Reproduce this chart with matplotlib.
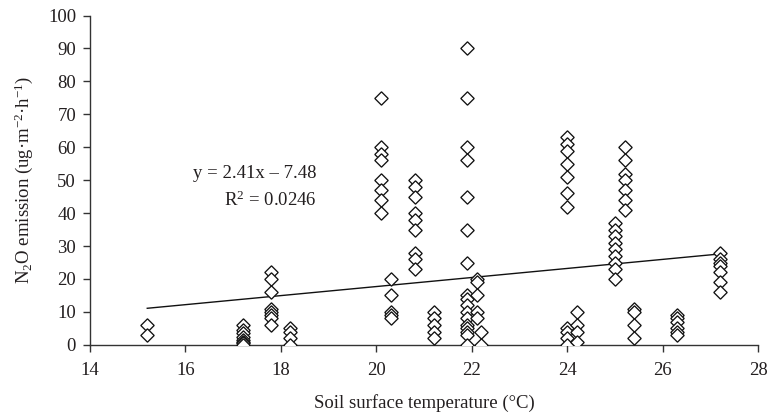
import matplotlib
matplotlib.use("Agg")
import matplotlib.pyplot as plt

# Soil temperature groups (x) and the N2O readings measured at each one (y)
temps = [15.2, 17.2, 17.8, 18.2, 20.1, 20.3, 20.8, 21.2, 21.9, 22.1, 22.2,
         24.0, 24.2, 25.0, 25.2, 25.4, 26.3, 27.2]
emissions = [
    [6, 3],
    [6, 4.5, 3.5, 2.5, 1.5, 1, 0.5, 0],
    [22, 20, 16, 11, 10, 9, 8, 6],
    [5, 4, 2, 0],
    [75, 60, 58, 56, 50, 47, 44, 40],
    [20, 15, 10, 9, 8],
    [50, 48, 45, 40, 38, 35, 28, 26, 23],
    [10, 8, 6, 4, 2],
    [90, 75, 60, 56, 45, 35, 25, 15, 14, 12, 10, 8, 6, 5, 4, 3, 0],
    [20, 19, 15, 10, 8],
    [4, 0],
    [63, 61, 59, 55, 51, 46, 42, 5, 4, 2, 0],
    [10, 6, 4, 1],
    [37, 35, 33, 31, 29, 27, 25, 23, 20],
    [60, 56, 52, 50, 47, 44, 41],
    [11, 10, 6, 2],
    [9, 8, 7, 5, 4, 3],
    [28, 26, 25, 24, 22, 19, 16],
]

# trendline as drawn in the source (end points)
trend_x = [15.2, 27.2]
trend_y = [11.1, 27.6]
eq_text = "y = 2.41x \u2013 7.48"
r2_text = "R$^2$ = 0.0246"

plt.rcParams["font.family"] = ["Liberation Serif", "DejaVu Serif"]
plt.rcParams["mathtext.fontset"] = "custom"
plt.rcParams["mathtext.rm"] = "Liberation Serif"
plt.rcParams["mathtext.it"] = "Liberation Serif:italic"
plt.rcParams["mathtext.bf"] = "Liberation Serif:bold"

text_col = "#231f20"
fs = 13.5

fig = plt.figure(figsize=(7.69, 4.19), dpi=100)
ax = fig.add_axes([0.117, 0.177, 0.869, 0.786])

xs, ys = [], []
for t, vals in zip(temps, emissions):
    xs += [t] * len(vals)
    ys += vals

ax.plot(xs, ys, linestyle="none", marker=(4, 0, 0), markersize=9.6,
        markerfacecolor="white", markeredgecolor="#111111",
        markeredgewidth=0.95, zorder=3)
ax.plot(trend_x, trend_y, color="#111111", linewidth=1.0, zorder=2)

# regression annotation (right aligned, like the source)
fig.text(0.412, 0.587, eq_text, ha="right", va="center",
         fontsize=fs, color=text_col)
fig.text(0.412, 0.523, r2_text, ha="right", va="center",
         fontsize=fs, color=text_col)

ax.set_xlim(14, 28)
ax.set_ylim(0, 100)
ax.set_xticks(range(14, 29, 2))
ax.set_yticks(range(0, 101, 10))

for side in ("top", "right"):
    ax.spines[side].set_visible(False)
for side in ("left", "bottom"):
    ax.spines[side].set_color("#333333")
    ax.spines[side].set_linewidth(1.0)
ax.tick_params(direction="out", length=5, width=1.0, color="#333333",
               labelsize=fs, labelcolor=text_col)
ax.tick_params(axis="x", pad=7)
ax.tick_params(axis="y", pad=5)

ax.set_xlabel("Soil surface temperature (\u00b0C)", fontsize=fs,
              color=text_col, labelpad=11)
ax.set_ylabel("N$_2$O emission (ug\u00b7m$^{\u22122}$\u00b7h$^{\u22121}$)",
              fontsize=fs, color=text_col, labelpad=9)

fig.savefig("out.png", dpi=100)
